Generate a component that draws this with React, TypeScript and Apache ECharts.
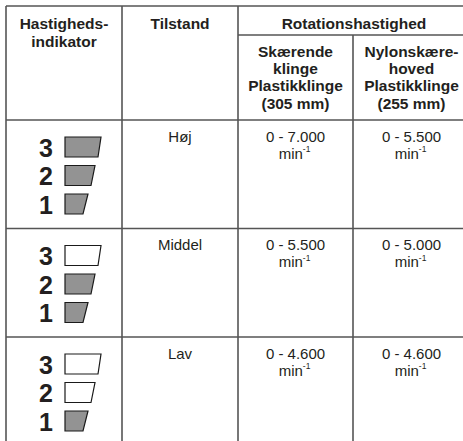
import React, { useEffect, useRef } from "react";
import * as echarts from "echarts";

// ---- data ----
const headerIndicator = ["Hastigheds-", "indikator"];
const headerCondition = ["Tilstand"];
const headerSpeed = ["Rotationshastighed"];
const headerBlade = ["Skærende", "klinge", "Plastikklinge", "(305 mm)"];
const headerNylon = ["Nylonskære-", "hoved", "Plastikklinge", "(255 mm)"];
const conditions = ["Høj", "Middel", "Lav"];
const bladeSpeeds = ["0 - 7.000", "0 - 5.500", "0 - 4.600"];
const nylonSpeeds = ["0 - 5.500", "0 - 5.000", "0 - 4.600"];
const filledLevels = [3, 2, 1];
const indicatorLevels = [3, 2, 1];
const unitText = "min";
const unitExp = "-1";

// ---- layout / style ----
const W = 463;
const H = 441;
const COLS = [6, 122, 238, 353, 470];
const TOP = 6;
const SUB_Y = 35;
const HEAD_BOTTOM = 120;
const ROW_H = 108.5;
const FONT = "Liberation Sans";
const TEXT = "#231f20";
const GRID = "#555555";
const GRID_W = 1.6;
const FILL_ON = "#939393";
const FILL_OFF = "#ffffff";
const TRAP_X = 65;
const TRAP_H = 20;
const TRAP_TOPS = [17, 45.5, 74];
const TRAP_TOP_W: Record<number, number> = { 3: 36, 2: 30, 1: 23 };
const TRAP_BOT_W: Record<number, number> = { 3: 33, 2: 26, 1: 18 };

function txt(
  text: string,
  x: number,
  y: number,
  size: number,
  weight: string,
  align = "center"
) {
  return {
    type: "text",
    x,
    y,
    silent: true,
    style: {
      text,
      fill: TEXT,
      fontSize: size,
      fontWeight: weight,
      fontFamily: FONT,
      align,
      textAlign: align,
      verticalAlign: "middle",
      textVerticalAlign: "middle",
    },
  };
}

function unitLabel(x: number, y: number) {
  return {
    type: "text",
    x,
    y,
    silent: true,
    style: {
      text: `{m|${unitText}}{s|${unitExp}}`,
      fill: TEXT,
      fontFamily: FONT,
      align: "center",
      textAlign: "center",
      verticalAlign: "middle",
      textVerticalAlign: "middle",
      rich: {
        m: { fontSize: 15, lineHeight: 17, fontFamily: FONT, fill: TEXT },
        s: { fontSize: 8.5, lineHeight: 9, verticalAlign: "top", fontFamily: FONT, fill: TEXT },
      },
    },
  };
}

function line(x1: number, y1: number, x2: number, y2: number) {
  return {
    type: "line",
    silent: true,
    shape: { x1, y1, x2, y2 },
    style: { stroke: GRID, lineWidth: GRID_W },
  };
}

function buildElements() {
  const els: any[] = [];
  const rowTops = conditions.map((_, i) => HEAD_BOTTOM + i * ROW_H);

  // grid lines
  els.push(line(COLS[0], TOP, W + 10, TOP));
  els.push(line(COLS[2], SUB_Y, W + 10, SUB_Y));
  els.push(line(COLS[0], HEAD_BOTTOM, W + 10, HEAD_BOTTOM));
  rowTops.slice(1).forEach((y) => els.push(line(COLS[0], y, W + 10, y)));
  els.push(line(COLS[0], TOP, COLS[0], H + 5));
  els.push(line(COLS[1], TOP, COLS[1], H + 5));
  els.push(line(COLS[2], TOP, COLS[2], H + 5));
  els.push(line(COLS[3], SUB_Y, COLS[3], H + 5));

  const c = (i: number) => (COLS[i] + COLS[i + 1]) / 2;

  // headers
  headerIndicator.forEach((t, i) => els.push(txt(t, c(0), 23 + i * 18, 15.5, "bold")));
  headerCondition.forEach((t) => els.push(txt(t, c(1), 23, 15.5, "bold")));
  headerSpeed.forEach((t) => els.push(txt(t, (COLS[2] + COLS[4]) / 2, 23.5, 15.5, "bold")));
  headerBlade.forEach((t, i) => els.push(txt(t, c(2), 51 + i * 17.4, 15.5, "bold")));
  headerNylon.forEach((t, i) => els.push(txt(t, c(3), 51 + i * 17.4, 15.5, "bold")));

  // rows
  conditions.forEach((cond, r) => {
    const y0 = rowTops[r];
    els.push(txt(cond, c(1), y0 + 16, 15, "normal"));
    [bladeSpeeds[r], nylonSpeeds[r]].forEach((v, k) => {
      const cx = c(2 + k);
      els.push(txt(v, cx, y0 + 16, 15, "normal"));
      els.push(unitLabel(cx - 1, y0 + 33));
    });

    indicatorLevels.forEach((lvl, k) => {
      const ty = y0 + TRAP_TOPS[k];
      const on = lvl <= filledLevels[r];
      els.push(txt(String(lvl), 46, ty + TRAP_H / 2 + 0.5, 25, "bold"));
      els.push({
        type: "polygon",
        silent: true,
        shape: {
          points: [
            [TRAP_X, ty],
            [TRAP_X + TRAP_TOP_W[lvl], ty],
            [TRAP_X + TRAP_BOT_W[lvl], ty + TRAP_H],
            [TRAP_X, ty + TRAP_H],
          ],
        },
        style: { fill: on ? FILL_ON : FILL_OFF, stroke: "#1a1a1a", lineWidth: 1.2 },
      });
    });
  });

  return els;
}

export default function App() {
  const ref = useRef<HTMLDivElement>(null);
  useEffect(() => {
    if (!ref.current) return;
    const chart = echarts.init(ref.current, null, { renderer: "svg" });
    chart.setOption({
      animation: false,
      backgroundColor: "#ffffff",
      graphic: { elements: buildElements() },
    });
    return () => chart.dispose();
  }, []);
  return (
    <div
      ref={ref}
      style={{ position: "fixed", left: 0, top: 0, width: W, height: H, background: "#fff" }}
    />
  );
}
